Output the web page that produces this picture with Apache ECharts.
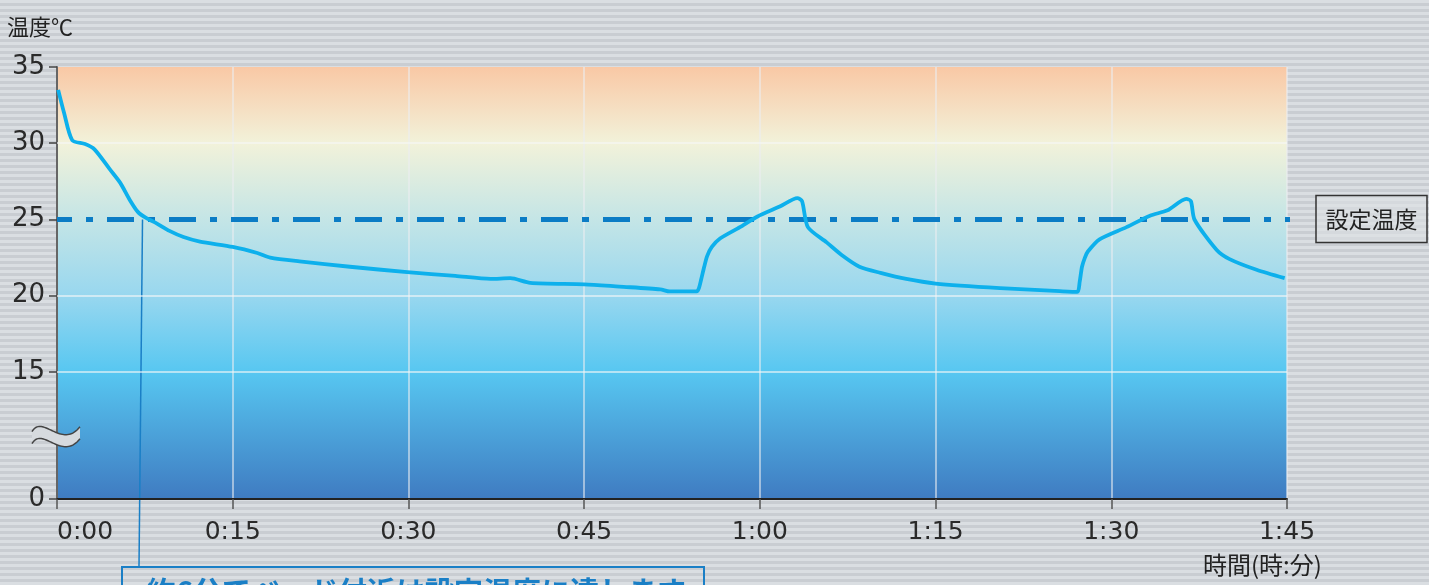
<!DOCTYPE html>
<html><head><meta charset="utf-8">
<script src="https://cdn.jsdelivr.net/npm/echarts@6/dist/echarts.min.js"></script>
<style>
html,body{margin:0;padding:0;}
body{width:1429px;height:585px;overflow:hidden;background:repeating-linear-gradient(to bottom,#dadee2 0px,#dadee2 3px,#c9cdd2 3px,#c9cdd2 6px);}
#c{width:1429px;height:585px;}
</style></head><body><div id="c"></div>
<script>
// ---- data ----
const timeMin = [0.1,0.6,1.3,2.4,3.2,4.5,5.4,6.2,6.9,7.6,8.5,9.6,10.8,12.2,15.0,17.1,18.2,20.7,25,29.9,34,37,38.7,40.4,45,48,51.5,52.3,54.6,54.8,55.0,55.25,55.5,55.9,56.6,58.3,59.8,61.7,63.2,63.6,64.1,65.7,67.1,68.5,70.3,72.5,75,80.5,85.6,87.1,87.3,87.5,87.75,88.0,89.0,91.3,93.3,94.8,96.4,96.8,97.1,99.0,100.1,102.4,104.8];
const tempC   = [33.5,32.0,30.2,29.95,29.6,28.3,27.4,26.3,25.5,25.1,24.75,24.25,23.85,23.55,23.2,22.8,22.5,22.25,21.9,21.55,21.3,21.1,21.15,20.85,20.75,20.6,20.42,20.28,20.28,20.5,21.1,21.9,22.6,23.2,23.75,24.5,25.2,25.85,26.4,26.2,24.5,23.5,22.6,21.9,21.5,21.1,20.8,20.5,20.3,20.25,20.9,21.9,22.5,22.9,23.7,24.5,25.25,25.6,26.35,26.2,25.0,23.0,22.4,21.7,21.15];
const setpoint = 25;
const yTickValues = [0,15,20,25,30,35];
const yGridValues = [15,20,30];
const xTickLabels = ['0:00','0:15','0:30','0:45','1:00','1:15','1:30','1:45'];
const yName = '温度℃';
const xName = '時間(時:分)';
const setLabel = '設定温度';
const note = '約6分でベッド付近は設定温度に達します';

// broken axis: 0..15 compressed
const BREAK_LOW = 6.67;
function toAxis(v){ return v >= 15 ? v : BREAK_LOW + v * (15 - BREAK_LOW) / 15; }
const yAxisVals = yTickValues.map(toAxis);

const FONT = '"Noto Sans CJK JP", "Noto Sans", sans-serif';
const NUMFONT = '"DejaVu Sans", sans-serif';
const chart = echarts.init(document.getElementById('c'), null, {renderer:'canvas'});

const option = {
  animation:false,
  grid:{left:57,right:142,top:67,bottom:86,show:true,borderWidth:0,
    backgroundColor:new echarts.graphic.LinearGradient(0,0,0,1,[
      {offset:0,color:'#f9c8a5'},
      {offset:0.176,color:'#f2f2da'},
      {offset:0.353,color:'#c4e5e6'},
      {offset:0.53,color:'#98d7ef'},
      {offset:0.706,color:'#57c7f1'},
      {offset:1,color:'#3f7bc1'}
    ])},
  xAxis:{type:'value',min:0,max:105,interval:15,
    axisLine:{lineStyle:{color:'#222',width:2}},
    axisTick:{length:10,lineStyle:{color:'#555',width:1.5}},
    axisLabel:{fontFamily:NUMFONT,fontSize:25,color:'#2a2a2a',margin:21,alignMinLabel:'left',
      formatter:v=>xTickLabels[Math.round(v/15)]},
    splitLine:{show:true,lineStyle:{color:'rgba(235,238,240,0.75)',width:1.5}}
  },
  yAxis:{type:'value',min:BREAK_LOW,max:35,
    axisLine:{show:true,lineStyle:{color:'#666',width:2}},
    axisTick:{show:true,length:8,customValues:yAxisVals,lineStyle:{color:'#444',width:1.5}},
    axisLabel:{fontFamily:NUMFONT,fontSize:26,color:'#2a2a2a',margin:12,customValues:yAxisVals,padding:[5,0,0,0],
      formatter:v=>{const i=yAxisVals.findIndex(a=>Math.abs(a-v)<0.01);return i<0?'':String(yTickValues[i]);}},
    splitLine:{show:false}
  },
  series:[
    {type:'line',data:[],z:1,silent:true,
      markLine:{silent:true,symbol:['none','none'],label:{show:false},
        lineStyle:{type:'solid',color:'rgba(245,247,248,0.8)',width:1.5},
        data:yGridValues.map(v=>({yAxis:v}))}},
    {type:'line',data:[[0,setpoint],[106.8,setpoint]],clip:false,symbol:'none',z:5,silent:true,
      lineStyle:{color:'#0b7cc5',width:5,type:[27,14,7,14],dashOffset:12,cap:'butt'}},
    {type:'line',data:timeMin.map((t,i)=>[t,toAxis(tempC[i])]),symbol:'none',z:6,smooth:0.25,
      lineStyle:{color:'#0db0ec',width:3.8,join:'round'}}
  ]
};
chart.setOption(option);

function px(x,y){ return chart.convertToPixel({gridIndex:0},[x,y]); }
const pSet = px(7.3, setpoint);
const pEnd = px(106.8, setpoint);
const pBreak = px(0, toAxis(7));
const bx = pBreak[0] - 1, by = pBreak[1] - 4;

// break symbol curves (decoration)
function cubic(p0,p1,p2,p3,n){const o=[];for(let i=0;i<=n;i++){const t=i/n,u=1-t;
  o.push([u*u*u*p0[0]+3*u*u*t*p1[0]+3*u*t*t*p2[0]+t*t*t*p3[0], u*u*u*p0[1]+3*u*u*t*p1[1]+3*u*t*t*p2[1]+t*t*t*p3[1]]);}return o;}
const topW = cubic([bx-24,by-4],[bx-14,by-22],[bx+6,by+14],[bx+24,by-9],40);
const botW = cubic([bx-24,by+8],[bx-14,by-10],[bx+6,by+26],[bx+24,by+3],40);
const bandPts = topW.concat(botW.slice().reverse());

chart.setOption({graphic:[
  {type:'text',x:7,y:27,style:{text:yName,fontFamily:FONT,fontSize:22,fill:'#222',verticalAlign:'middle'}},
  {type:'text',x:1203,y:565,style:{text:xName,fontFamily:FONT,fontSize:24,fill:'#222',verticalAlign:'middle'}},
  {type:'rect',shape:{x:1316,y:pEnd[1]-24,width:111,height:47},
    style:{fill:'rgba(222,225,228,0.6)',stroke:'#333',lineWidth:1.5}},
  {type:'text',x:1371.5,y:pEnd[1],style:{text:setLabel,fontFamily:FONT,fontSize:23,fill:'#222',align:'center',verticalAlign:'middle'}},
  {type:'line',shape:{x1:pSet[0],y1:pSet[1],x2:139,y2:567},style:{stroke:'#1a7fc6',lineWidth:1.5}},
  {type:'rect',shape:{x:122,y:567,width:582,height:40},style:{fill:'none',stroke:'#1a7fc6',lineWidth:2}},
  {type:'text',x:147,y:577,style:{text:note,fontFamily:FONT,fontSize:29,fontWeight:'bold',fill:'#1a7fc6'}},
  {type:'polygon',z:10,shape:{points:bandPts},style:{fill:'#d6dade',stroke:'none'}},
  {type:'polyline',z:11,shape:{points:topW},style:{fill:'none',stroke:'#444',lineWidth:1.5}},
  {type:'polyline',z:11,shape:{points:botW},style:{fill:'none',stroke:'#444',lineWidth:1.5}}
]});
</script></body></html>
